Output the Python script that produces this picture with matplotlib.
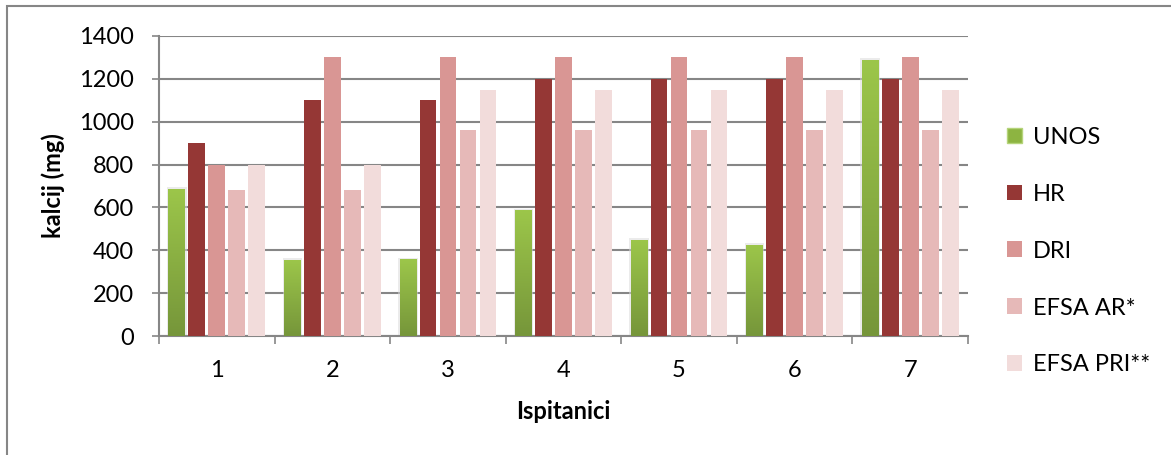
import numpy as np
import matplotlib
matplotlib.use('Agg')
import matplotlib.pyplot as plt
from matplotlib.patches import Rectangle

plt.rcParams['font.family'] = ['Lato', 'DejaVu Sans']

# Data
ispitanici = ['1', '2', '3', '4', '5', '6', '7']
unos = [686, 355, 358, 587, 448, 425, 1288]
hr = [900, 1100, 1100, 1200, 1200, 1200, 1200]
dri = [800, 1300, 1300, 1300, 1300, 1300, 1300]
efsa_ar = [680, 680, 960, 960, 960, 960, 960]
efsa_pri = [800, 800, 1150, 1150, 1150, 1150, 1150]

series = [('UNOS', unos), ('HR', hr), ('DRI', dri),
          ('EFSA AR*', efsa_ar), ('EFSA PRI**', efsa_pri)]
colors = ['#8DB441', '#953735', '#D99694', '#E6B9B8', '#F2DCDB']

fs = 17

fig = plt.figure(figsize=(11.71, 4.55), dpi=100)
ax = fig.add_axes([0.1358, 0.2615, 0.6908, 0.6594])

x = np.arange(len(ispitanici))
step = 0.173
width = 0.145
handles = []
for i, (name, vals) in enumerate(series):
    pos = x + (i - 2) * step
    if name == 'UNOS':
        bars = ax.bar(pos, vals, width, color='none', edgecolor='none', zorder=3)
        grad = np.linspace(0, 1, 100).reshape(-1, 1)
        cmap = matplotlib.colors.LinearSegmentedColormap.from_list(
            'g', ['#76963A', '#9CC64A'])
        for b in bars:
            bx, bw, bh = b.get_x(), b.get_width(), b.get_height()
            # soft shadow
            ax.add_patch(Rectangle((bx - 0.012, 0), bw + 0.024, bh + 8,
                                   color='#D8D8D8', alpha=0.5, zorder=2, lw=0))
            im = ax.imshow(grad, cmap=cmap, aspect='auto', origin='lower',
                           extent=(bx, bx + bw, 0, bh), zorder=3)
            im.set_clip_path(b)
        handles.append(Rectangle((0, 0), 1, 1, facecolor='#8DB441',
                                 edgecolor='#B5D47A', lw=1))
    else:
        ax.bar(pos, vals, width, color=colors[i], zorder=3)
        handles.append(Rectangle((0, 0), 1, 1, facecolor=colors[i]))

ax.set_xlim(-0.5, len(ispitanici) - 0.5)
ax.set_ylim(0, 1400)
ax.set_yticks(range(0, 1401, 200))
ax.set_xticks(x)
ax.set_xticklabels(ispitanici)
ax.set_xticks(np.arange(-0.5, len(ispitanici)), minor=True)
ax.tick_params(axis='x', which='major', length=0, labelsize=fs, pad=17)
ax.tick_params(axis='x', which='minor', length=6, color='#868686', width=1.2)
ax.tick_params(axis='y', length=5, color='#868686', width=1.2,
               labelsize=fs, pad=13)
ax.grid(axis='y', color='#868686', lw=1.5, zorder=1)
for side in ['top', 'right']:
    ax.spines[side].set_visible(False)
for side in ['left', 'bottom']:
    ax.spines[side].set_color('#868686')
    ax.spines[side].set_linewidth(1.5)

ax.set_ylabel('kalcij (mg)', fontsize=fs, fontweight='bold', labelpad=10)
ax.set_xlabel('Ispitanici', fontsize=fs, fontweight='bold', labelpad=14)

fig.legend(handles, [s[0] for s in series], loc='center left',
           bbox_to_anchor=(0.860, 0.448), frameon=False, fontsize=fs,
           handlelength=0.65, handleheight=0.65, handletextpad=0.45,
           labelspacing=1.52, borderaxespad=0, borderpad=0)

# outer chart border (top and left visible)
fig.add_artist(Rectangle((7 / 1171, -0.1), 1.2, 1 - 6.5 / 455 + 0.1,
                         transform=fig.transFigure, fill=False,
                         edgecolor='#868686', lw=1.5))

fig.savefig('out.png', dpi=100)
